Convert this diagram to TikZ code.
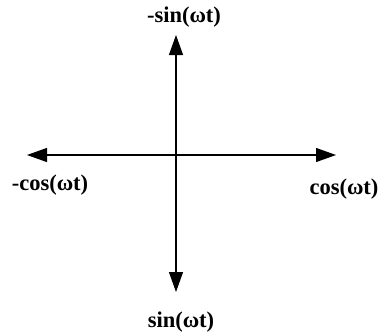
\documentclass[tikz,border=0pt]{standalone}
\usepackage{fontspec}
\setmainfont{Liberation Serif}
\usetikzlibrary{arrows.meta}
\begin{document}
\begin{tikzpicture}[x=1pt,y=-1pt,
    axis/.style={line width=1.2pt, -{Triangle[length=20pt,width=14pt]}},
    lbl/.style={font=\fontsize{22.5}{25}\selectfont\bfseries, inner sep=0pt}]
      \useasboundingbox (0,0) rectangle (381,333);
      % Centre et extremites
      \coordinate (o) at (176,155);
      \coordinate (west) at (27,155);
      \coordinate (east) at (336,155);
      \coordinate (north) at (176,35);
      \coordinate (south) at (176,292);
      % Axes
      \draw[axis] (o) -- (west);
      \draw[axis] (o) -- (east);
      \draw[axis] (o) -- (north);
      \draw[axis] (o) -- (south);
      % Etiquettes
      \node[lbl] (msin) at (184,17) {-sin(ωt)};
      \node[lbl] (mcos) at (50,185) {-cos(ωt)};
      \node[lbl] (cos) at (344,189) {cos(ωt)};
      \node[lbl] (sin) at (181,322) {sin(ωt)};
\end{tikzpicture}
\end{document}
